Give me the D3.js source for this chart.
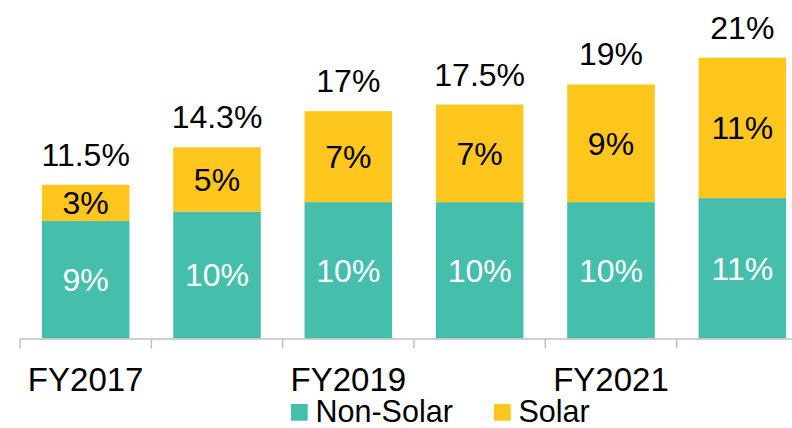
<!DOCTYPE html>
<html>
<head>
<meta charset="utf-8">
<script src="https://cdn.jsdelivr.net/npm/d3@7"></script>
<style>
  html, body { margin: 0; padding: 0; background: #fff; }
  svg { display: block; font-family: "Liberation Sans", Arial, sans-serif; }
</style>
</head>
<body>
<svg id="chart" width="792" height="428"></svg>
<script>
const categories = ["FY2017", "FY2018", "FY2019", "FY2020", "FY2021", "FY2022"];
const tickLabels = ["FY2017", "", "FY2019", "", "FY2021", ""];
const nonSolar = [8.8, 9.5, 10.2, 10.2, 10.2, 10.5];
const solar = [2.7, 4.8, 6.8, 7.3, 8.8, 10.5];
const seriesNames = ["Non-Solar", "Solar"];
const seriesColors = ["#45BFAC", "#FFC61E"];

const svg = d3.select("#chart");
const baseY = 338.5;
const x = d3.scaleBand().domain(categories).range([20, 20 + 6 * 131.33])
  .paddingInner(1 / 3).paddingOuter(1 / 6);
const y = d3.scaleLinear().domain([0, 25]).range([baseY, baseY - 25 * 13.37]);

const rows = categories.map((c, i) => ({ cat: c, "Non-Solar": nonSolar[i], "Solar": solar[i] }));
const stacked = d3.stack().keys(seriesNames)(rows);
const fmtPart = v => d3.format(".0f")(v) + "%";
const fmtTotal = v => d3.format(".1~f")(v) + "%";

// bars
stacked.forEach((layer, li) => {
  const g = svg.append("g");
  g.selectAll("rect").data(layer).join("rect")
    .attr("x", d => x(d.data.cat))
    .attr("width", x.bandwidth())
    .attr("y", d => y(d[1]))
    .attr("height", d => y(d[0]) - y(d[1]))
    .attr("fill", seriesColors[li]);
  g.selectAll("text").data(layer).join("text")
    .attr("x", d => x(d.data.cat) + x.bandwidth() / 2)
    .attr("y", d => (y(d[0]) + y(d[1])) / 2 + 11.3)
    .attr("text-anchor", "middle")
    .attr("font-size", 32)
    .attr("fill", li === 0 ? "#ffffff" : "#000000")
    .text(d => fmtPart(d[1] - d[0]));
});

// totals
svg.append("g").selectAll("text").data(rows).join("text")
  .attr("x", d => x(d.cat) + x.bandwidth() / 2)
  .attr("y", d => y(d["Non-Solar"] + d["Solar"]) - 19)
  .attr("text-anchor", "middle")
  .attr("font-size", 32)
  .attr("fill", "#000")
  .text(d => fmtTotal(d["Non-Solar"] + d["Solar"]));

// axis
const axisG = svg.append("g");
const half = (x.step() - x.bandwidth()) / 2;
axisG.append("line")
  .attr("x1", x(categories[0]) - half).attr("x2", 792)
  .attr("y1", baseY + 0.5).attr("y2", baseY + 0.5)
  .attr("stroke", "#bfbfbf").attr("stroke-width", 1.5);
axisG.selectAll("line.tick").data(categories).join("line")
  .attr("class", "tick")
  .attr("x1", d => x(d) - half).attr("x2", d => x(d) - half)
  .attr("y1", baseY + 0.5).attr("y2", baseY + 10)
  .attr("stroke", "#bfbfbf").attr("stroke-width", 1.5);
axisG.selectAll("text").data(categories).join("text")
  .attr("x", d => x(d) + x.bandwidth() / 2)
  .attr("y", 390.7)
  .attr("text-anchor", "middle")
  .attr("font-size", 33)
  .attr("fill", "#000")
  .text((d, i) => tickLabels[i]);

// legend
const legendX = [291, 494];
const legendG = svg.append("g");
seriesNames.forEach((name, i) => {
  legendG.append("rect")
    .attr("x", legendX[i]).attr("y", 404)
    .attr("width", 16.7).attr("height", 16.7)
    .attr("fill", seriesColors[i]);
  legendG.append("text")
    .attr("x", legendX[i] + 24.5).attr("y", 421.5)
    .attr("font-size", 30.5)
    .attr("fill", "#000")
    .text(name);
});
</script>
</body>
</html>
